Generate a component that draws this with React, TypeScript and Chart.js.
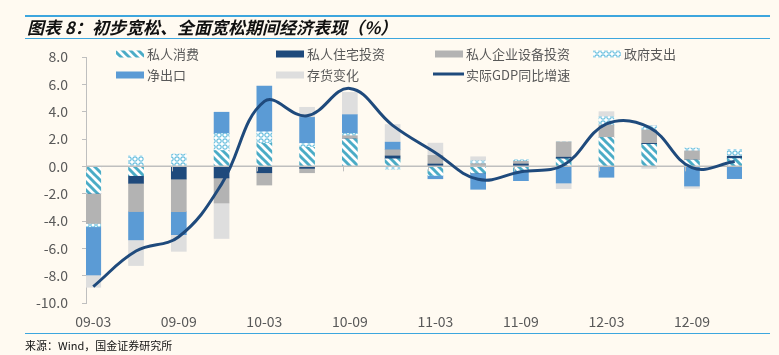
import React, { useEffect, useRef } from 'react';
import { Chart, registerables } from 'chart.js';

Chart.register(...registerables);

// ---------------- data ----------------
const quarters = ['09-03', '09-06', '09-09', '09-12', '10-03', '10-06', '10-09', '10-12', '11-03', '11-06', '11-09', '11-12', '12-03', '12-06', '12-09', '12-12'];
const consumption = [-1.98, -0.68, 0, 1.16, 1.68, 1.39, 2.0, 0.55, -0.66, -0.48, -0.32, 0.55, 2.12, 1.61, 0.46, 0.57];
const residential = [0, -0.56, -0.93, -0.85, -0.47, -0.15, 0, 0.21, 0.17, 0, 0.17, 0.12, 0, 0.07, 0, 0.17];
const equipment = [-2.2, -2.07, -2.39, -1.83, -0.9, -0.32, 0.24, 0.45, 0.63, 0.2, 0.2, 1.12, 0.9, 0.98, 0.67, 0];
const government = [-0.24, 0.77, 0.9, 1.24, 0.85, 0.29, 0.17, -0.2, 0, 0.2, 0.12, 0, 0.61, 0.29, 0.21, 0.5];
const netExports = [-3.53, -2.07, -1.68, 1.56, 3.34, 1.9, 1.37, 0.56, -0.25, -1.2, -0.73, -1.22, -0.8, 0, -1.44, -0.9];
const inventory = [-0.9, -1.88, -1.22, -2.6, 0, 0.74, 1.63, 1.29, 0.9, 0.3, 0, -0.41, 0.37, -0.15, -0.17, 0];
const gdpGrowth = [-8.8, -6.2, -5.15, -1.3, 4.75, 3.7, 5.7, 3.0, 1.0, -0.95, -0.4, 0.1, 3.1, 2.85, -0.1, 0.35];

const seriesNames = ['私人消费', '私人住宅投资', '私人企业设备投资', '政府支出', '净出口', '存货变化', '实际GDP同比增速'];
const xTickIndices = [0, 2, 4, 6, 8, 10, 12, 14];
const yTickValues = [-10, -8, -6, -4, -2, 0, 2, 4, 6, 8];

const titleText = '图表 8：初步宽松、全面宽松期间经济表现（%）';
const sourceText = '来源：Wind，国金证券研究所';

// ---------------- styles ----------------
const BG = '#FFFAF1';
const FONT = '"Noto Sans CJK SC", "Noto Sans", sans-serif';
const TEXT_GRAY = '#595959';
const AXIS_GRAY = '#BFBFBF';
const RULE_BLUE = '#3DA6DE';
const NAVY = '#1F4A7C';

function makeStripePattern(): CanvasPattern | string {
  const c = document.createElement('canvas');
  c.width = 8; c.height = 8;
  const g = c.getContext('2d');
  if (!g) return '#4BACC6';
  g.fillStyle = '#FFFFFF';
  g.fillRect(0, 0, 8, 8);
  g.strokeStyle = '#4BACC6';
  g.lineWidth = 3;
  for (const o of [-8, 0, 8]) {
    g.beginPath();
    g.moveTo(o - 1, -1);
    g.lineTo(o + 9, 9);
    g.stroke();
  }
  const p = g.createPattern(c, 'repeat');
  return p || '#4BACC6';
}

function makeRingPattern(): CanvasPattern | string {
  const c = document.createElement('canvas');
  c.width = 6; c.height = 6;
  const g = c.getContext('2d');
  if (!g) return '#8FD0E6';
  g.fillStyle = '#FFFFFF';
  g.fillRect(0, 0, 6, 6);
  g.strokeStyle = '#6CC0DE';
  g.lineWidth = 1.2;
  g.beginPath();
  g.arc(3, 3, 2.2, 0, Math.PI * 2);
  g.stroke();
  const p = g.createPattern(c, 'repeat');
  return p || '#8FD0E6';
}

const legendPlugin = {
  id: 'gridLegend',
  afterDraw(chart: any) {
    const ctx = chart.ctx;
    const cols = [116, 276, 435, 593];
    const rows = [54, 75];
    const ds = chart.data.datasets;
    ctx.save();
    ctx.font = `13px ${FONT}`;
    ctx.textBaseline = 'middle';
    ctx.fillStyle = TEXT_GRAY;
    ds.forEach((d: any, i: number) => {
      const col = i < 4 ? i : i - 4;
      const row = i < 4 ? 0 : 1;
      const x = cols[col];
      const y = rows[row];
      if (d.type === 'line') {
        ctx.strokeStyle = d.borderColor;
        ctx.lineWidth = 3;
        ctx.beginPath();
        ctx.moveTo(x - 2, y - 1);
        ctx.lineTo(x + 29, y - 1);
        ctx.stroke();
      } else {
        ctx.fillStyle = d.backgroundColor;
        ctx.fillRect(x, y - 3.5, 28, 7);
      }
      ctx.fillStyle = TEXT_GRAY;
      ctx.fillText(d.label, x + 31, y + 0.5);
    });
    ctx.restore();
  },
  beforeDatasetDraw(chart: any, args: any) {
    const d = chart.data.datasets[args.index];
    if (!d || d.type !== 'line') return;
    const ctx = chart.ctx;
    const y0 = chart.scales.y.getPixelForValue(0);
    const xs = chart.scales.x;
    const area = chart.chartArea;
    ctx.save();
    ctx.strokeStyle = AXIS_GRAY;
    ctx.lineWidth = 1.5;
    ctx.beginPath();
    ctx.moveTo(area.left, y0);
    ctx.lineTo(area.right, y0);
    ctx.stroke();
    ctx.lineWidth = 1;
    xTickIndices.forEach((i) => {
      const x = Math.round(xs.getPixelForValue(i) - 7) + 0.5;
      ctx.beginPath();
      ctx.moveTo(x, y0);
      ctx.lineTo(x, y0 + 5);
      ctx.stroke();
    });
    ctx.restore();
  },
};

export default function App() {
  const canvasRef = useRef<HTMLCanvasElement>(null);

  useEffect(() => {
    document.body.style.margin = '0';
    document.body.style.background = BG;
    const canvas = canvasRef.current;
    if (!canvas) return;

    const stripe = makeStripePattern();
    const rings = makeRingPattern();
    const toXY = (arr: number[]) => arr.map((v, i) => ({ x: i, y: v }));

    const barSeries = [consumption, residential, equipment, government, netExports, inventory];
    const barColors: any[] = [stripe, '#1F4A7C', '#B3B3B3', rings, '#5B9BD5', '#DEDEDE'];

    const datasets: any[] = barSeries.map((arr, i) => ({
      type: 'bar',
      label: seriesNames[i],
      data: toXY(arr),
      backgroundColor: barColors[i],
      borderWidth: 0,
      barThickness: 15,
      stack: 'parts',
      order: 1,
    }));
    datasets.push({
      type: 'line',
      label: seriesNames[6],
      data: toXY(gdpGrowth),
      borderColor: NAVY,
      backgroundColor: NAVY,
      borderWidth: 3,
      pointRadius: 0,
      pointHoverRadius: 0,
      tension: 0.4,
      fill: false,
      stack: 'gdp',
      order: 0,
    });

    const chart = new Chart(canvas, {
      type: 'bar',
      data: { datasets },
      plugins: [legendPlugin],
      options: {
        responsive: false,
        animation: false,
        devicePixelRatio: 1,
        layout: { padding: { left: 0, right: 37, top: 57, bottom: 22 } },
        plugins: {
          legend: { display: false },
          title: { display: false },
          tooltip: { enabled: false },
        },
        scales: {
          x: {
            type: 'linear',
            min: -0.17,
            max: 15.17,
            offset: false,
            stacked: true,
            afterBuildTicks: (s: any) => {
              s.ticks = xTickIndices.map((v) => ({ value: v }));
            },
            afterFit: (s: any) => {
              s.height = 30;
            },
            ticks: {
              autoSkip: false,
              maxRotation: 0,
              padding: 10,
              color: TEXT_GRAY,
              font: { size: 14, family: FONT },
              callback: (v: any) => quarters[v] ?? '',
            },
            grid: { display: false, drawTicks: false, offset: false },
            border: { display: false },
          },
          y: {
            type: 'linear',
            min: -10,
            max: 8,
            stacked: true,
            afterBuildTicks: (s: any) => {
              s.ticks = yTickValues.map((v) => ({ value: v }));
            },
            afterFit: (s: any) => {
              s.width = 86;
            },
            ticks: {
              padding: 14,
              color: TEXT_GRAY,
              font: { size: 14, family: FONT },
              callback: (v: any) => Number(v).toFixed(1),
            },
            grid: {
              color: 'rgba(0,0,0,0)',
              tickColor: AXIS_GRAY,
              tickLength: 4,
              drawTicks: true,
            },
            border: { display: true, color: AXIS_GRAY, width: 1 },
          },
        },
      } as any,
    });

    return () => {
      chart.destroy();
    };
  }, []);

  const rule = (top: number): React.CSSProperties => ({
    position: 'absolute',
    left: 25,
    width: 745,
    top,
    height: 1.5,
    background: RULE_BLUE,
  });

  return (
    <div style={{ position: 'relative', width: 779, height: 355, background: BG, overflow: 'hidden', fontFamily: FONT }}>
      <canvas ref={canvasRef} width={779} height={355} style={{ position: 'absolute', left: 0, top: 0, width: 779, height: 355, display: 'block' }} />
      <div style={rule(15)} />
      <div
        style={{
          position: 'absolute',
          left: 27,
          top: 16,
          fontSize: 17,
          lineHeight: '22px',
          fontWeight: 700,
          fontStyle: 'italic',
          color: '#111',
          whiteSpace: 'nowrap',
        }}
      >
        {titleText}
      </div>
      <div style={rule(37.5)} />
      <div style={rule(332.5)} />
      <div
        style={{
          position: 'absolute',
          left: 25,
          top: 337,
          fontSize: 11,
          lineHeight: '16px',
          color: '#111',
          whiteSpace: 'nowrap',
        }}
      >
        {sourceText}
      </div>
    </div>
  );
}
